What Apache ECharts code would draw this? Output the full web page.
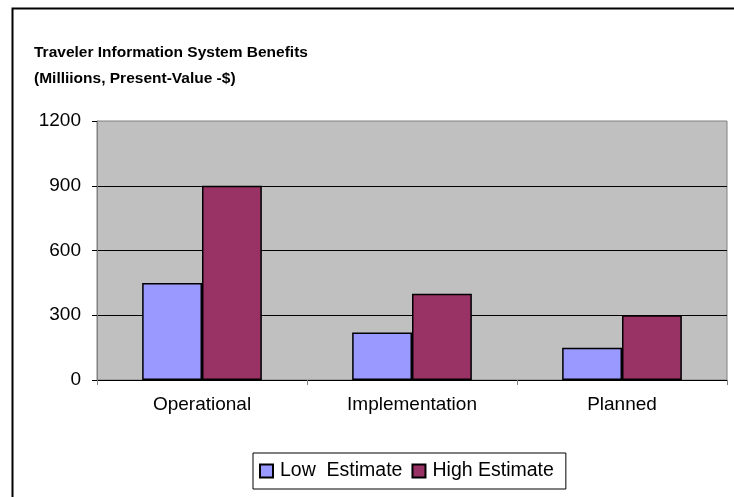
<!DOCTYPE html>
<html>
<head>
<meta charset="utf-8">
<script src="https://cdn.jsdelivr.net/npm/echarts@6/dist/echarts.min.js"></script>
<style>
  html, body { margin: 0; padding: 0; background: #fff; }
  #echart { width: 734px; height: 497px; }
</style>
</head>
<body>
<div id="echart"></div>
<script>
// chart data
var categories = ['Operational', 'Implementation', 'Planned'];
var lowEstimate = [450, 220, 150];
var highEstimate = [900, 400, 300];
var seriesNames = ['Low  Estimate', 'High Estimate'];
var yTicks = [0, 300, 600, 900, 1200];

var font = '"Liberation Sans", Arial, sans-serif';

var chartDom = document.getElementById('echart');
var myChart = echarts.init(chartDom);

var options = {
  animation: false,
  backgroundColor: '#fff',
  textStyle: { fontFamily: font },
  title: {
    text: 'Traveler Information System Benefits\n(Milliions, Present-Value -$)',
    left: 34,
    top: 40,
    padding: 0,
    textStyle: {
      fontFamily: font,
      fontSize: 15.5,
      fontWeight: 'bold',
      color: '#000',
      lineHeight: 26
    }
  },
  // outer chart frame (right and bottom sides are off the picture)
  graphic: [{
    type: 'rect',
    left: 10,
    top: 6,
    shape: { width: 760, height: 540 },
    style: { fill: 'none', stroke: '#000', lineWidth: 2 },
    silent: true
  }],
  legend: {
    data: seriesNames,
    left: 253,
    top: 453,
    padding: [8, 12, 8, 6],
    itemWidth: 13,
    itemHeight: 13,
    itemGap: 9,
    icon: 'rect',
    borderColor: '#000',
    borderWidth: 1,
    textStyle: { fontFamily: font, fontSize: 19.5, color: '#000', padding: [0, 0, 0, 2] }
  },
  grid: {
    left: 97,
    right: 7,
    top: 121,
    bottom: 117,
    show: true,
    backgroundColor: '#C0C0C0',
    borderColor: '#808080',
    borderWidth: 1
  },
  xAxis: [{
    type: 'category',
    data: categories,
    axisLine: { show: true, lineStyle: { color: '#000', width: 1 } },
    axisTick: { show: true, length: 5, alignWithLabel: false, lineStyle: { color: '#808080' } },
    axisLabel: { fontFamily: font, fontSize: 19, color: '#000', margin: 15 }
  }],
  yAxis: [{
    type: 'value',
    min: yTicks[0],
    max: yTicks[yTicks.length - 1],
    interval: yTicks[1] - yTicks[0],
    axisLine: { show: true, lineStyle: { color: '#808080' } },
    axisTick: { show: true, length: 5, lineStyle: { color: '#000' } },
    axisLabel: {
      fontFamily: font,
      fontSize: 19,
      color: '#000',
      margin: 16,
      formatter: function (v) { return String(v); }
    },
    splitLine: { show: true, showMaxLine: false, lineStyle: { color: '#000', width: 1 } }
  }],
  series: [
    {
      name: seriesNames[0],
      type: 'bar',
      data: lowEstimate,
      barGap: '0%',
      barCategoryGap: '43%',
      itemStyle: { color: '#9999FF', borderColor: '#000', borderWidth: 1.5 }
    },
    {
      name: seriesNames[1],
      type: 'bar',
      data: highEstimate,
      barGap: '0%',
      barCategoryGap: '43%',
      itemStyle: { color: '#993366', borderColor: '#000', borderWidth: 1.5 }
    }
  ]
};

myChart.setOption(options);
</script>
</body>
</html>
